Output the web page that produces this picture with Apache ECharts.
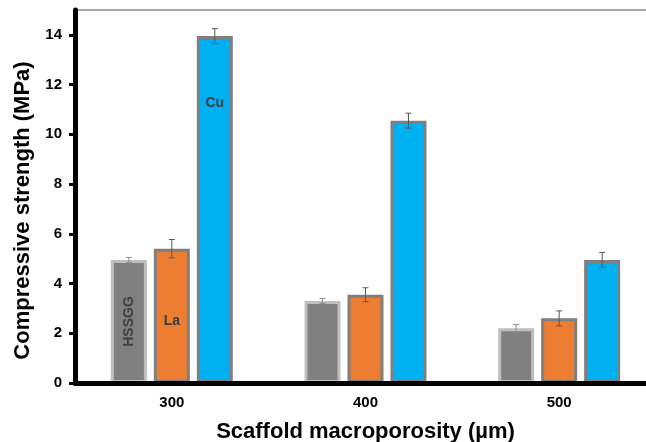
<!DOCTYPE html>
<html>
<head>
<meta charset="utf-8">
<script src="https://cdn.jsdelivr.net/npm/echarts@6/dist/echarts.min.js"></script>
<style>
html,body{margin:0;padding:0;background:#fff;}
#chart{width:646px;height:442px;}
</style>
</head>
<body>
<div id="chart"></div>
<script>
// ---- data ----
var categories = ['300', '400', '500'];
var seriesNames = ['HSSGG', 'La', 'Cu'];
var hssggValues = [4.95, 3.3, 2.2];
var hssggErrors = [0.1, 0.1, 0.15];
var laValues = [5.4, 3.55, 2.6];
var laErrors = [0.37, 0.28, 0.3];
var cuValues = [13.95, 10.55, 4.95];
var cuErrors = [0.3, 0.3, 0.3];
var yTicks = [0, 2, 4, 6, 8, 10, 12, 14];
var yMax = 15;

// ---- styles ----
var FONT = 'Arial, "Liberation Sans", sans-serif';
var seriesStyles = [
  {fill: '#808080', border: '#bfbfbf', err: '#8c8c8c', offset: -43,
   label: {show: true, position: 'inside', rotate: 90}},
  {fill: '#ed7d31', border: '#7f7f7f', err: '#595959', offset: 0,
   label: {show: true, position: 'inside', offset: [0, 5]}},
  {fill: '#00b0f0', border: '#7f7f7f', err: '#595959', offset: 43,
   label: {show: true, position: 'insideTop', distance: 60}}
];
var allValues = [hssggValues, laValues, cuValues];
var allErrors = [hssggErrors, laErrors, cuErrors];

var series = [];
allValues.forEach(function (vals, s) {
  var st = seriesStyles[s];
  series.push({
    type: 'bar',
    name: seriesNames[s],
    barWidth: 36,
    barGap: '19.4%',
    itemStyle: {color: st.fill, borderColor: st.border, borderWidth: 3},
    data: vals.map(function (v, i) {
      var item = {value: v};
      if (i === 0) {
        item.label = Object.assign({
          formatter: seriesNames[s],
          color: '#3f3f3f',
          fontSize: 14,
          fontWeight: 'bold',
          fontFamily: FONT
        }, st.label);
      }
      return item;
    }),
    z: 2
  });
});

allValues.forEach(function (vals, s) {
  var st = seriesStyles[s];
  series.push({
    type: 'custom',
    name: seriesNames[s] + ' err',
    z: 4,
    data: vals.map(function (v, i) { return [i, v, allErrors[s][i]]; }),
    renderItem: function (params, api) {
      var i = api.value(0), v = api.value(1), e = api.value(2);
      var hi = api.coord([i, v + e]);
      var lo = api.coord([i, v - e]);
      var x = hi[0] + st.offset;
      var cap = 3;
      var style = {stroke: st.err, lineWidth: 1};
      return {
        type: 'group',
        children: [
          {type: 'line', shape: {x1: x, y1: hi[1], x2: x, y2: lo[1]}, style: style},
          {type: 'line', shape: {x1: x - cap, y1: hi[1], x2: x + cap, y2: hi[1]}, style: style},
          {type: 'line', shape: {x1: x - cap, y1: lo[1], x2: x + cap, y2: lo[1]}, style: style}
        ]
      };
    }
  });
});

var chart = echarts.init(document.getElementById('chart'), null, {renderer: 'canvas'});
chart.setOption({
  animation: false,
  backgroundColor: '#ffffff',
  grid: {left: 75, top: 10, bottom: 59, right: -10, show: true,
         outerBoundsMode: 'none', containLabel: false,
         borderColor: '#a6a6a6', borderWidth: 2, backgroundColor: 'transparent'},
  xAxis: {
    type: 'category',
    data: categories,
    z: 5,
    axisLine: {lineStyle: {color: '#000', width: 5}},
    axisTick: {show: false},
    axisLabel: {color: '#000', fontSize: 15, fontWeight: 'bold', fontFamily: FONT, margin: 12},
    name: 'Scaffold macroporosity (µm)',
    nameLocation: 'middle',
    nameGap: 38,
    nameTextStyle: {color: '#000', fontSize: 22, fontWeight: 'bold', fontFamily: FONT}
  },
  yAxis: {
    type: 'value',
    min: 0,
    max: yMax,
    z: 5,
    axisLine: {show: true, lineStyle: {color: '#000', width: 5}},
    axisTick: {show: true, length: 6, lineStyle: {color: '#000', width: 3}, customValues: yTicks},
    axisLabel: {color: '#000', fontSize: 15, fontWeight: 'bold', fontFamily: FONT, margin: 13,
                customValues: yTicks},
    splitLine: {show: false},
    name: 'Compressive strength (MPa)',
    nameLocation: 'middle',
    nameGap: 38,
    nameTextStyle: {color: '#000', fontSize: 22, fontWeight: 'bold', fontFamily: FONT,
                    padding: [0, 28, 0, 0]}
  },
  series: series
});
</script>
</body>
</html>
